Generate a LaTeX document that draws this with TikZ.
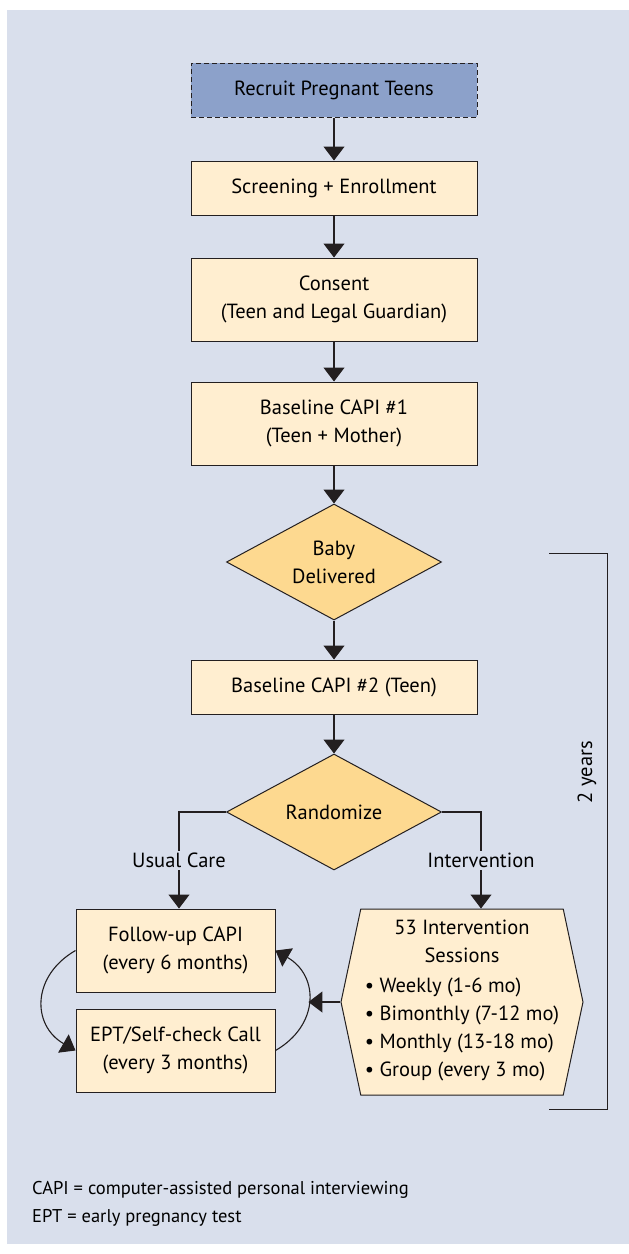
\documentclass[tikz,border=0pt]{standalone}
\usepackage{fontspec}
\setmainfont{PT Sans}
\usetikzlibrary{arrows.meta, positioning, shapes, shapes.geometric}
\definecolor{bgBlue}{HTML}{D9DFEC}
\definecolor{recruitBlue}{HTML}{8CA1CA}
\definecolor{boxCream}{HTML}{FFEED0}
\definecolor{decisionGold}{HTML}{FDD990}
\definecolor{lineGray}{HTML}{231F20}
\tikzset{
  box/.style = {
    draw=lineGray,
    fill=boxCream,
    line width=1pt,
    align=center,
    minimum width=286pt,
    minimum height=54pt,
    inner sep=0pt,
  },
  onArrow/.style = {
    fill=bgBlue,
    inner sep=2pt,
  },
  goes/.style = {
    -{Triangle[width=21pt, length=14pt]},
    line width=1.1pt,
    draw=lineGray,
  },
  node distance=40pt,
}

\begin{document}
\begin{tikzpicture}[
  x=1pt, y=1pt,
  font=\fontsize{20.5}{28}\selectfont,
  recruit/.style = {
    box,
    fill=recruitBlue,
    dash pattern=on 5pt off 3pt,
  },
  tall/.style = {
    box,
    minimum height=83pt,
  },
  small/.style = {
    box,
    minimum width=199pt,
    minimum height=83pt,
  },
  decision/.style = {
    draw=lineGray,
    fill=decisionGold,
    line width=1pt,
    diamond,
    aspect=1.85,
    minimum width=215pt,
    minimum height=116pt,
    inner sep=0pt,
    align=center,
  },
  hex/.style = {
    draw=lineGray,
    fill=boxCream,
    line width=1pt,
    signal,
    signal to={west and east},
    signal pointer angle=156,
    minimum width=242pt,
    minimum height=186pt,
    inner sep=0pt,
    align=center,
  },
  loop/.style = {
    goes,
    looseness=1.3,
  },
]

\useasboundingbox (0,0) rectangle (629,-1254);
\fill[bgBlue] (7,-10) rectangle (629,-1244);

\node(Recruit)[recruit] at (334,-90) {Recruit Pregnant Teens};
\node(Screening)[box, below=43pt of Recruit] {Screening + Enrollment};
\node(Consent)[tall, below=42pt of Screening] {Consent\\(Teen and Legal Guardian)};
\node(BaselineOne)[tall, below=40pt of Consent] {Baseline CAPI \#1\\(Teen + Mother)};
\node(Baby)[decision, below=38pt of BaselineOne] {Baby\\Delivered};
\node(BaselineTwo)[box, below=39pt of Baby] {Baseline CAPI \#2 (Teen)};
\node(Randomize)[decision, below=39pt of BaselineTwo] {Randomize};

\node(FollowUp)[small] at (175.5,-950.5) {Follow-up CAPI\\(every 6 months)};
\node(EPT)[small, below=16pt of FollowUp] {EPT/Self-check Call\\(every 3 months)};
\node(Sessions)[hex] at (462,-1002) {53 Intervention\\Sessions\\[2pt]
  \begin{tabular}[t]{@{}l@{}}
    \textbullet\ Weekly (1-6 mo)\\
    \textbullet\ Bimonthly (7-12 mo)\\
    \textbullet\ Monthly (13-18 mo)\\
    \textbullet\ Group (every 3 mo)
  \end{tabular}};

\node(Years)[rotate=90] at (587,-772) {2 years};
\node(Notes)[anchor=north west, align=left, inner sep=0pt,
  font=\fontsize{18.5}{28}\selectfont] at (32,-1181)
  {CAPI = computer-assisted personal interviewing\\EPT = early pregnancy test};

\draw[goes] (Recruit) -- (Screening);
\draw[goes] (Screening) -- (Consent);
\draw[goes] (Consent) -- (BaselineOne);
\draw[goes] (BaselineOne) -- (Baby);
\draw[goes] (Baby) -- (BaselineTwo);
\draw[goes] (BaselineTwo) -- (Randomize);

\draw[goes] (Randomize.west) -| node[onArrow, pos=.75] {Usual Care} ([xshift=3.5pt]FollowUp.north);
\draw[goes] (Randomize.east) -| node[onArrow, pos=.75] {Intervention} ([xshift=19pt]Sessions.north);

\draw[loop] (FollowUp.west) to[out=210, in=150] (EPT.west);
\draw[loop] (EPT.east) to[out=30, in=-30] coordinate[pos=.5](LoopRight) (FollowUp.east);
\draw[goes] (Sessions.west) -- (Sessions.west -| LoopRight);

\coordinate(BracketTop) at (549,-553);
\coordinate(BracketBottom) at (549,-1109);
\draw[lineGray, line width=1pt] (BracketTop) -- ++(58,0) |- (BracketBottom);

\end{tikzpicture}
\end{document}
